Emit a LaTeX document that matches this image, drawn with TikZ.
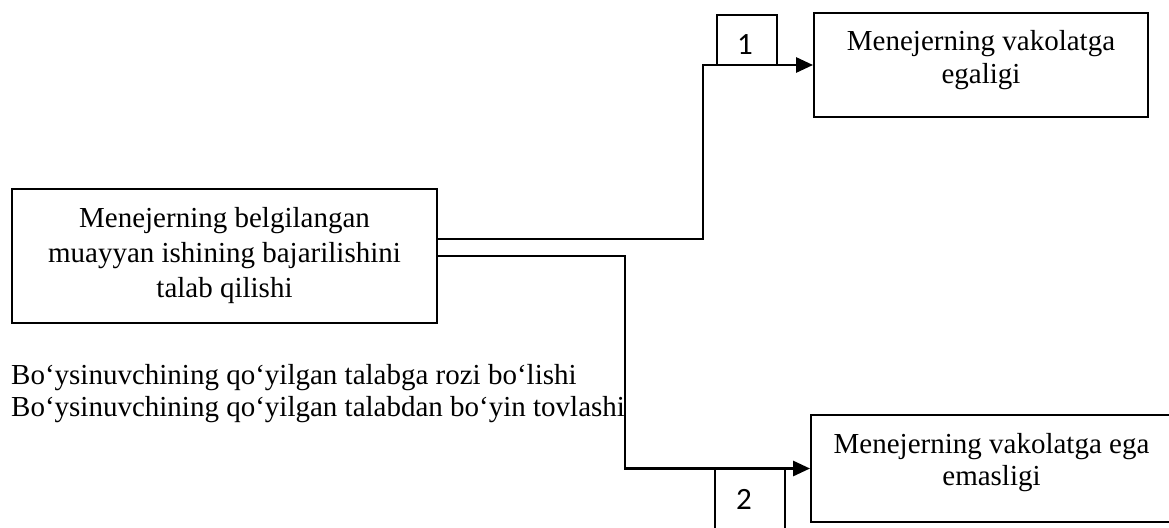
\documentclass[tikz,border=0pt]{standalone}
\usepackage{fontspec}
\setmainfont{Liberation Serif}
\newfontfamily\numfont{Carlito}
\usetikzlibrary{arrows.meta}
\begin{document}
\begin{tikzpicture}[x=1pt,y=-1pt,
  box/.style={draw=black, line width=1.9pt, rectangle, inner sep=0pt},
  numbox/.style={draw=black, line width=1.5pt, rectangle, inner sep=0pt},
  boxtext/.style={align=center, inner sep=0pt},
  numtext/.style={font=\numfont\fontsize{31}{34}\selectfont, inner sep=0pt},
  plaintext/.style={anchor=base west, font=\fontsize{29}{32}\selectfont, inner sep=0pt},
  link/.style={line width=2.8pt},
  arrowlink/.style={link, -{Triangle[length=17pt,width=15pt]}}
]
\useasboundingbox (0,0) rectangle (1169,527);
\clip (0,0) rectangle (1169,527);
\fill[white] (0,0) rectangle (1169,527);

% main boxes
\node[box, minimum width=425pt, minimum height=134pt] (req) at (224.5,256) {};
\node[box, minimum width=334pt, minimum height=104pt] (has) at (981,65) {};
\node[box, minimum width=361pt, minimum height=107pt] (hasnot) at (991.5,468.5) {};

% numbered tags
\node[numbox, minimum width=60pt, minimum height=50pt] (one) at (747,40) {};
\node[numbox, minimum width=70pt, minimum height=64pt] (two) at (750,501) {};
\node[numtext] (onetext) at (745,45) {1};
\node[numtext] (twotext) at (744,499) {2};

% connectors
\draw[arrowlink] ([yshift=17pt]req.east) -- ++(265,0) |- (has.west);
\draw[arrowlink] (req.east) -- ++(187,0) |- (hasnot.west);

% box texts
\node[boxtext, font=\fontsize{29}{35}\selectfont] (reqtext) at (req.center)
  {Menejerning belgilangan\\muayyan ishining bajarilishini\\talab qilishi};
\node[boxtext, font=\fontsize{29}{33}\selectfont] (hastext) at ([yshift=5pt]has.center)
  {Menejerning vakolatga\\egaligi};
\node[boxtext, font=\fontsize{29}{32}\selectfont] (hasnottext) at ([yshift=6pt]hasnot.center)
  {Menejerning vakolatga ega\\emasligi};

% free text
\node[plaintext] (agree) at (11,384) {Bo‘ysinuvchining qo‘yilgan talabga rozi bo‘lishi};
\node[plaintext] (refuse) at (11,416) {Bo‘ysinuvchining qo‘yilgan talabdan bo‘yin tovlashi};
\end{tikzpicture}
\end{document}
